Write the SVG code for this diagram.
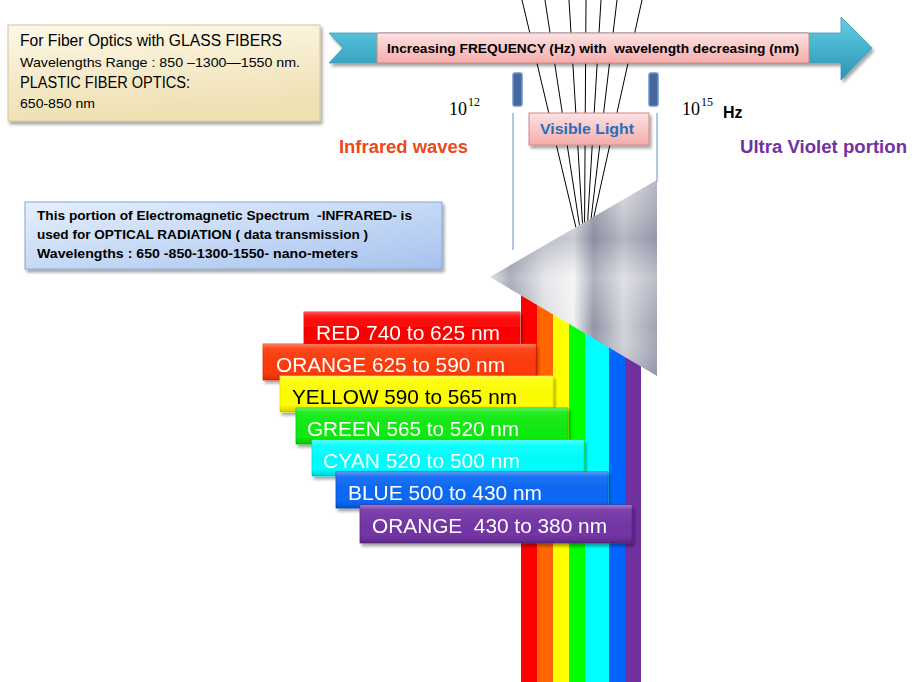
<svg xmlns="http://www.w3.org/2000/svg" width="922" height="682" viewBox="0 0 922 682">
<defs>
<style>
text{white-space:pre}
.sans{font-family:"Liberation Sans",Arial,sans-serif}
.b{font-weight:bold}
.serif{font-family:"Liberation Serif","DejaVu Serif",serif}
.lbl{font-family:"Liberation Sans",Arial,sans-serif;font-size:21px;fill:#fff}
.ray{stroke:#000;stroke-width:1;fill:none}
.guide{stroke:#7f9fd0;stroke-width:1.2;fill:none}
.tick{fill:#45699f;stroke:#6f92c6;stroke-width:1.5}
.pink{fill:url(#gPink);stroke:#d08886;stroke-width:1}
.bevel{fill:url(#gBevel)}
</style>
<filter id="sh" x="-10%" y="-20%" width="130%" height="160%">
<feDropShadow dx="2" dy="3" stdDeviation="1.8" flood-color="#000" flood-opacity="0.35"/>
</filter>
<linearGradient id="gCream" x1="0" y1="0" x2="0.2" y2="1">
<stop offset="0" stop-color="#fdf8e8"/>
<stop offset="1" stop-color="#efe0b2"/>
</linearGradient>
<linearGradient id="gBlueBox" x1="0" y1="0" x2="1" y2="1">
<stop offset="0" stop-color="#e6effc"/>
<stop offset="1" stop-color="#a6c3ee"/>
</linearGradient>
<linearGradient id="gArrow" x1="0" y1="0" x2="0" y2="1">
<stop offset="0" stop-color="#6acde3"/>
<stop offset="0.5" stop-color="#44b2cd"/>
<stop offset="1" stop-color="#2f94b0"/>
</linearGradient>
<linearGradient id="gPink" x1="0" y1="0" x2="0" y2="1">
<stop offset="0" stop-color="#fde2e2"/>
<stop offset="1" stop-color="#f5acac"/>
</linearGradient>
<linearGradient id="gBevel" x1="0" y1="0" x2="0" y2="1">
<stop offset="0" stop-color="#fff" stop-opacity="0.35"/>
<stop offset="0.12" stop-color="#fff" stop-opacity="0.08"/>
<stop offset="0.8" stop-color="#000" stop-opacity="0"/>
<stop offset="1" stop-color="#000" stop-opacity="0.2"/>
</linearGradient>
<linearGradient id="gPrism" x1="490" y1="0" x2="657" y2="0" gradientUnits="userSpaceOnUse">
<stop offset="0" stop-color="#d4d6dc"/>
<stop offset="0.12" stop-color="#8d91a3"/>
<stop offset="0.33" stop-color="#dcdde2"/>
<stop offset="0.5" stop-color="#f2f2f4"/>
<stop offset="0.62" stop-color="#9094a5"/>
<stop offset="0.8" stop-color="#d2d3da"/>
<stop offset="1" stop-color="#9ea1b1"/>
</linearGradient>
<linearGradient id="gPrismV" x1="0" y1="180" x2="0" y2="376" gradientUnits="userSpaceOnUse">
<stop offset="0" stop-color="#ffffff" stop-opacity="0.25"/>
<stop offset="0.3" stop-color="#7e8396" stop-opacity="0.35"/>
<stop offset="0.5" stop-color="#ffffff" stop-opacity="0.3"/>
<stop offset="0.75" stop-color="#ffffff" stop-opacity="0"/>
<stop offset="1" stop-color="#6e7386" stop-opacity="0.3"/>
</linearGradient>
</defs>
<rect width="922" height="682" fill="#fff"/>

<g id="spectrum">
<rect x="521" y="270" width="16" height="412" fill="#ff0000"/>
<rect x="537" y="270" width="16" height="412" fill="#ff6600"/>
<rect x="553" y="270" width="16" height="412" fill="#ffff00"/>
<rect x="569" y="270" width="16" height="412" fill="#00ff00"/>
<rect x="585" y="270" width="24" height="412" fill="#00ffff"/>
<rect x="609" y="270" width="16" height="412" fill="#0066ff"/>
<rect x="625" y="270" width="16" height="412" fill="#7030a0"/>
</g>

<g id="connectors">
<line class="ray" x1="522" y1="0" x2="577" y2="232"/>
<line class="ray" x1="545" y1="0" x2="580.5" y2="232"/>
<line class="ray" x1="569" y1="0" x2="583" y2="232"/>
<line class="ray" x1="586" y1="0" x2="584.5" y2="232"/>
<line class="ray" x1="601" y1="0" x2="587" y2="232"/>
<line class="ray" x1="617" y1="0" x2="589.5" y2="232"/>
<line class="ray" x1="642" y1="0" x2="590.5" y2="232"/>
<line class="guide" x1="513" y1="113" x2="513" y2="250"/>
<line class="guide" x1="657" y1="113" x2="657" y2="182"/>
</g>

<g id="prism">
<polygon points="490,277 657,180 657,376" fill="url(#gPrism)"/>
<polygon points="490,277 657,180 657,376" fill="url(#gPrismV)"/>
</g>

<g id="info-glass">
<rect x="8" y="25" width="312" height="96" fill="url(#gCream)" stroke="#d6c494" stroke-width="1" filter="url(#sh)"/>
<text class="sans" x="20" y="46" font-size="16" textLength="262" lengthAdjust="spacingAndGlyphs">For Fiber Optics with GLASS FIBERS</text>
<text class="sans" x="20" y="67" font-size="13" textLength="280" lengthAdjust="spacingAndGlyphs">Wavelengths Range : 850 –1300—1550 nm.</text>
<text class="sans" x="20" y="88" font-size="16" textLength="170" lengthAdjust="spacingAndGlyphs">PLASTIC FIBER OPTICS:</text>
<text class="sans" x="20" y="108" font-size="13" textLength="75" lengthAdjust="spacingAndGlyphs">650-850 nm</text>
</g>

<g id="arrow">
<polygon points="329,33 841,33 841,17 872,48 841,80 841,63 329,63 343,48" fill="url(#gArrow)" stroke="#3a9cb8" stroke-width="0.8" filter="url(#sh)"/>
<rect class="pink" x="377" y="33" width="432" height="30" rx="1.5"/>
<text class="sans b" x="387" y="53" font-size="13.5" textLength="412" lengthAdjust="spacingAndGlyphs">Increasing FREQUENCY (Hz) with  wavelength decreasing (nm)</text>
</g>

<g id="ticks">
<rect class="tick" x="513" y="73" width="9" height="33" rx="2"/>
<rect class="tick" x="649" y="73" width="9" height="33" rx="2"/>
</g>

<g id="freq-low">
<text class="serif" x="449" y="115" font-size="18">10</text>
<text class="serif" x="468" y="106" font-size="12">12</text>
</g>
<g id="freq-high">
<text class="serif" x="682" y="115" font-size="18">10</text>
<text class="serif" x="701" y="106" font-size="12">15</text>
<text class="sans b" x="723" y="118" font-size="16">Hz</text>
</g>

<g id="visible-light">
<rect class="pink" x="529" y="113" width="120" height="32" filter="url(#sh)"/>
<text class="sans b" x="540" y="134" font-size="15" fill="#2a6eb8" textLength="94" lengthAdjust="spacingAndGlyphs">Visible Light</text>
</g>

<g id="infrared-label">
<text class="sans b" x="339" y="153" font-size="18" fill="#ea4a1c" textLength="129" lengthAdjust="spacingAndGlyphs">Infrared waves</text>
</g>
<g id="uv-label">
<text class="sans b" x="740" y="153" font-size="18" fill="#7232a2" textLength="167" lengthAdjust="spacingAndGlyphs">Ultra Violet portion</text>
</g>

<g id="info-infrared">
<rect x="25" y="202" width="417" height="67" fill="url(#gBlueBox)" stroke="#86a6d6" stroke-width="1" filter="url(#sh)"/>
<text class="sans b" x="37" y="220" font-size="12" textLength="375" lengthAdjust="spacingAndGlyphs">This portion of Electromagnetic Spectrum  -INFRARED- is</text>
<text class="sans b" x="37" y="239" font-size="12" textLength="331" lengthAdjust="spacingAndGlyphs">used for OPTICAL RADIATION ( data transmission )</text>
<text class="sans b" x="37" y="258" font-size="12" textLength="321" lengthAdjust="spacingAndGlyphs">Wavelengths : 650 -850-1300-1550- nano-meters</text>
</g>

<g id="label-red" filter="url(#sh)">
<rect x="304" y="312" width="216" height="36" fill="#ff0000" stroke="#e00000" stroke-width="0.8"/>
<rect class="bevel" x="304" y="312" width="216" height="36"/>
<text class="lbl" x="316" y="340" textLength="184" lengthAdjust="spacingAndGlyphs">RED 740 to 625 nm</text>
</g>
<g id="label-orange" filter="url(#sh)">
<rect x="263" y="344" width="273" height="36" fill="#ff3a0a" stroke="#e03000" stroke-width="0.8"/>
<rect class="bevel" x="263" y="344" width="273" height="36"/>
<text class="lbl" x="276" y="372" textLength="229" lengthAdjust="spacingAndGlyphs">ORANGE 625 to 590 nm</text>
</g>
<g id="label-yellow" filter="url(#sh)">
<rect x="280" y="376" width="273" height="36" fill="#ffff00" stroke="#e6e600" stroke-width="0.8"/>
<rect class="bevel" x="280" y="376" width="273" height="36"/>
<text class="lbl" x="292" y="404" style="fill:#000" textLength="225" lengthAdjust="spacingAndGlyphs">YELLOW 590 to 565 nm</text>
</g>
<g id="label-green" filter="url(#sh)">
<rect x="296" y="408" width="272" height="36" fill="#10ec10" stroke="#00cc00" stroke-width="0.8"/>
<rect class="bevel" x="296" y="408" width="272" height="36"/>
<text class="lbl" x="307" y="436" textLength="212" lengthAdjust="spacingAndGlyphs">GREEN 565 to 520 nm</text>
</g>
<g id="label-cyan" filter="url(#sh)">
<rect x="312" y="440" width="272" height="36" fill="#00ffff" stroke="#00dede" stroke-width="0.8"/>
<rect class="bevel" x="312" y="440" width="272" height="36"/>
<text class="lbl" x="323" y="468" textLength="197" lengthAdjust="spacingAndGlyphs">CYAN 520 to 500 nm</text>
</g>
<g id="label-blue" filter="url(#sh)">
<rect x="336" y="472" width="272" height="36" fill="#0a68f5" stroke="#0050d0" stroke-width="0.8"/>
<rect class="bevel" x="336" y="472" width="272" height="36"/>
<text class="lbl" x="348" y="500" textLength="194" lengthAdjust="spacingAndGlyphs">BLUE 500 to 430 nm</text>
</g>
<g id="label-violet" filter="url(#sh)">
<rect x="360" y="505" width="272" height="38" fill="#7434a6" stroke="#5e2490" stroke-width="0.8"/>
<rect class="bevel" x="360" y="505" width="272" height="38"/>
<text class="lbl" x="372" y="533" textLength="235" lengthAdjust="spacingAndGlyphs">ORANGE  430 to 380 nm</text>
</g>
</svg>
